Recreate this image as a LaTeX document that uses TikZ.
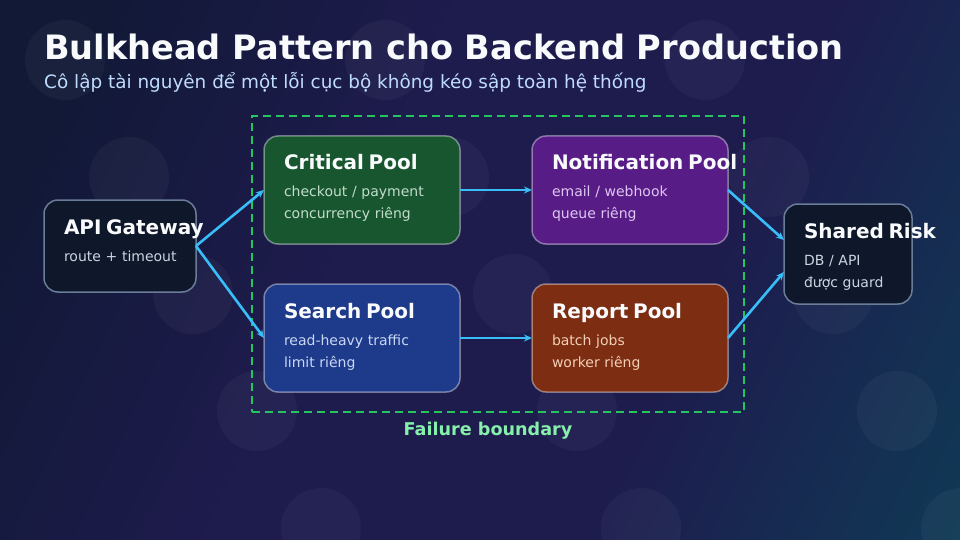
\documentclass[tikz,border=0pt]{standalone}
\usepackage{fontspec}
\setmainfont{DejaVu Sans}
\usepackage{xcolor}
\usetikzlibrary{arrows.meta, positioning}
\definecolor{bgnavy}{HTML}{111936}
\definecolor{bgpurple}{HTML}{1E1B4D}
\definecolor{bgteal}{HTML}{0F3A55}
\definecolor{slatebox}{HTML}{0F172A}
\definecolor{slateline}{HTML}{6B7C98}
\definecolor{critgreen}{HTML}{17562F}
\definecolor{notifpurple}{HTML}{581C87}
\definecolor{searchblue}{HTML}{1E3A8A}
\definecolor{reportbrown}{HTML}{7C2D12}
\definecolor{gatesub}{HTML}{CBD5E1}
\definecolor{critsub}{HTML}{C3DCCB}
\definecolor{notifsub}{HTML}{DEC7F2}
\definecolor{searchsub}{HTML}{CAD7F5}
\definecolor{reportsub}{HTML}{F3CFB6}
\definecolor{flowblue}{HTML}{38BDF8}
\definecolor{fencegreen}{HTML}{22C55E}
\definecolor{fencelabel}{HTML}{86EFAC}
\definecolor{subtitleblue}{HTML}{BFDBFE}
\definecolor{softwhite}{HTML}{F8FAFC}
\pgfdeclarehorizontalshading{backdrop}{100bp}{color(0bp)=(bgnavy); color(22bp)=(bgnavy);
  color(42bp)=(bgpurple); color(62bp)=(bgpurple); color(84bp)=(bgteal); color(100bp)=(bgteal)}
\newcommand{\pooltitle}[1]{{\color{softwhite}\fontsize{20}{24}\selectfont\bfseries\mbox{#1}}}

\begin{document}
\begin{tikzpicture}[x=1pt, y=-1pt,
  pool/.style={rectangle, rounded corners=14pt, draw=white, draw opacity=.4, line width=1.5pt,
               align=left, text width=156pt, inner xsep=20pt, inner ysep=0pt, outer sep=0pt,
               text height=34pt, text depth=74pt, font=\fontsize{14}{22}\selectfont},
  edge/.style={rectangle, rounded corners=14pt, draw=slateline, line width=1.5pt,
               fill=slatebox, text=gatesub, align=left, inner xsep=20pt, inner ysep=0pt, outer sep=0pt,
               text height=34pt, font=\fontsize{14}{22}\selectfont},
  fence/.style={rectangle, draw=fencegreen, line width=2.5pt, dash pattern=on 8pt off 5pt,
                minimum width=492pt, minimum height=296pt, inner sep=0pt},
  ed/.style={-{Stealth[length=8pt, width=7pt]}, line width=2.6pt, flowblue}]
\useasboundingbox (0,0) rectangle (960,540);
% background
\shade[shading=backdrop, shading angle=-25] (0,0) rectangle (960,540);
\foreach \i in {0,...,4}
  \foreach \j in {0,1,2}
    \fill[white, opacity=.035] ({65+64*\i+320*\j},{60+117*\i}) circle[radius=40pt];
% heading
\node[anchor=base west, inner sep=0pt, text=softwhite, font=\fontsize{33.6}{40}\selectfont\bfseries] (title) at (44,60)
  {Bulkhead Pattern cho Backend Production};
\node[anchor=base west, inner sep=0pt, text=subtitleblue, font=\fontsize{18.4}{22}\selectfont] (subtitle) at (44,89)
  {Cô lập tài nguyên để một lỗi cục bộ không kéo sập toàn hệ thống};
% failure boundary
\node[fence] (zone) at (498,264) {};
\node[text=fencelabel, font=\fontsize{17.6}{20}\selectfont\bfseries] (zonelabel) at (488,431) {Failure boundary};
% boxes
\node[edge, text width=112pt, text depth=58pt] (gw) at (120,246)
  {\pooltitle{API Gateway}\\[5pt] \mbox{route + timeout}};
\node[pool, fill=critgreen, text=critsub] (crit) at (362,190)
  {\pooltitle{Critical Pool}\\[5pt] checkout / payment\\ concurrency riêng};
\node[pool, fill=notifpurple, text=notifsub, right=72pt of crit] (notif)
  {\pooltitle{Notification Pool}\\[5pt] email / webhook\\ queue riêng};
\node[pool, fill=searchblue, text=searchsub, below=40pt of crit] (search)
  {\pooltitle{Search Pool}\\[5pt] read-heavy traffic\\ limit riêng};
\node[pool, fill=reportbrown, text=reportsub, right=72pt of search] (report)
  {\pooltitle{Report Pool}\\[5pt] batch jobs\\ worker riêng};
\node[edge, text width=88pt, text depth=66pt] (shared) at (848,254)
  {\pooltitle{Shared Risk}\\[5pt] DB / API\\ được guard};
% flows
\draw[ed] (gw.east) -- (crit.west);
\draw[ed] (gw.east) -- (search.west);
\draw[ed] (crit) -- (notif);
\draw[ed] (search) -- (report);
\draw[ed] (notif.east) -- ([yshift=14pt]shared.west);
\draw[ed] (report.east) -- ([yshift=-18pt]shared.west);
\end{tikzpicture}
\end{document}
